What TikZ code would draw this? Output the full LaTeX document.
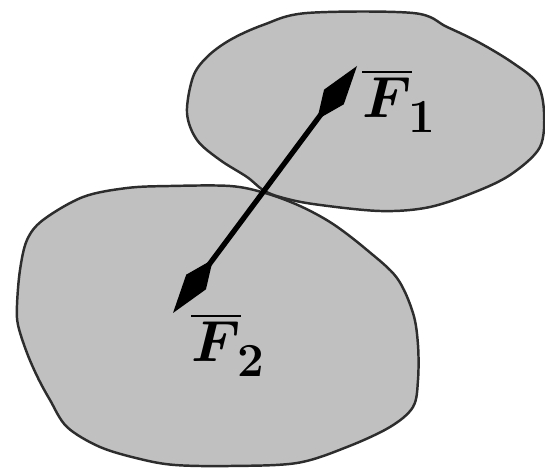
\RequirePackage{fix-cm}
\documentclass[tikz,border=0pt]{standalone}
\usepackage{amsmath}
\usepackage{bm}
\usetikzlibrary{arrows.meta}
\definecolor{blobgray}{RGB}{192,192,192}
\definecolor{blobedge}{RGB}{45,45,45}
\newcommand{\forcelabel}[1]{{\fontsize{33}{40}\selectfont$\overline{\bm{F}}$}\kern-2pt\raisebox{-8pt}{\fontsize{27}{32}\selectfont$\mathbf{#1}$}}
\begin{document}
\begin{tikzpicture}[x=0.02cm,y=-0.02cm,
  blob/.style={fill=blobgray,draw=blobedge,line width=1.4pt,line join=round},
  force/.style={line width=3pt,{Kite[length=38pt,width=14pt,inset=16pt]}-{Kite[length=38pt,width=14pt,inset=16pt]}},
  lbl/.style={inner sep=0pt,anchor=base west}]
\useasboundingbox (0,0) rectangle (545,469);
% lower body
\draw[blob] plot[smooth cycle,tension=0.55] coordinates {
 (17,305) (20,270) (27,240) (43,220) (83,197) (127,188) (170,186) (230,186)
 (265,193) (300,206) (333,224) (367,250) (397,278) (413,313) (418,345) (418,380)
 (413,407) (390,427) (347,447) (297,463) (230,466) (175,465) (140,459) (100,447)
 (67,427) (50,400) (38,378) (27,353) (18,325)};
% upper body
\draw[blob] plot[smooth cycle,tension=0.55] coordinates {
 (187,113) (193,77) (207,57) (230,40) (263,25) (307,13) (413,13) (447,27)
 (480,43) (513,63) (537,83) (544,112) (540,147) (513,173) (480,190) (430,207)
 (380,211) (313,204) (280,197) (263,190) (247,177) (220,160) (197,140)};
% force arrow
\coordinate (t1) at (357,66);
\coordinate (t2) at (173,313);
\draw[force] (t2) -- (t1);
% labels
\node[lbl] (f1) at (362,118) {\forcelabel{1}};
\node[lbl] (f2) at (191,362) {\forcelabel{2}};
\end{tikzpicture}
\end{document}
